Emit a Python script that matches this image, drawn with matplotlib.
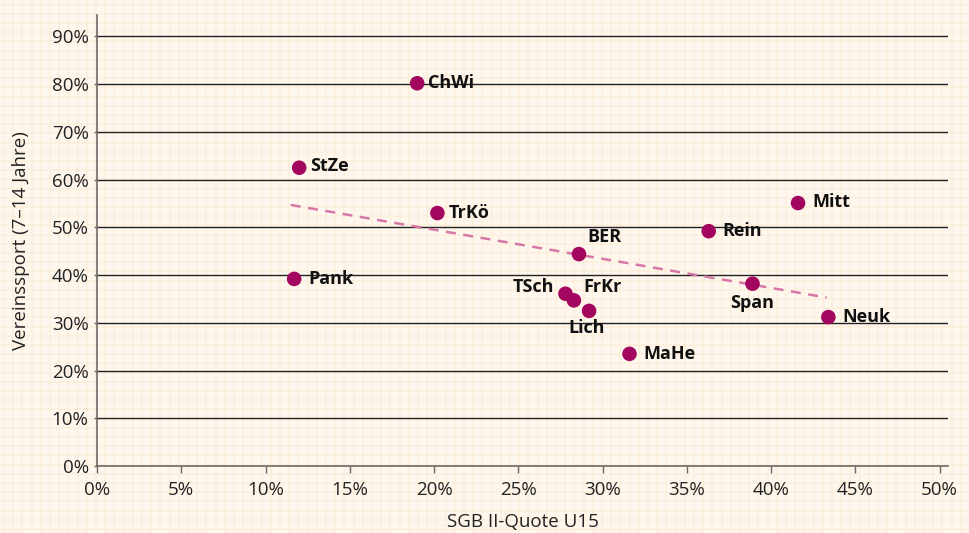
import numpy as np
import matplotlib.pyplot as plt
from matplotlib.lines import Line2D

# Bezirke: SGB II-Quote U15 (x, %) vs. Vereinssport 7-14 Jahre (y, %)
names = ["ChWi", "StZe", "TrKö", "Pank", "BER", "TSch", "FrKr", "Lich",
         "MaHe", "Rein", "Mitt", "Span", "Neuk"]
sgb_quote = [19.0, 12.0, 20.2, 11.7, 28.6, 27.8, 28.3, 29.2,
             31.6, 36.3, 41.6, 38.9, 43.4]
vereinssport = [80.2, 62.5, 53.0, 39.2, 44.4, 36.1, 34.7, 32.5,
                23.5, 49.2, 55.1, 38.2, 31.2]

trend_x = [11.5, 43.3]
trend_y = [54.7, 35.3]

x_ticks = [0, 5, 10, 15, 20, 25, 30, 35, 40, 45, 50]
y_ticks = [0, 10, 20, 30, 40, 50, 60, 70, 80, 90]

# Label-Offsets in Punkten (dx, dy, ha)
label_pos = {
    "ChWi": (8, 0, "left"), "StZe": (8, 1, "left"), "TrKö": (8, 0, "left"),
    "Pank": (10, 0, "left"), "BER": (6, 12, "left"), "TSch": (-8, 5, "right"),
    "FrKr": (7, 10, "left"), "Lich": (-2, -12, "center"), "MaHe": (10, 0, "left"),
    "Rein": (10, 0, "left"), "Mitt": (10, 1, "left"), "Span": (0, -14, "center"),
    "Neuk": (10, 0, "left"),
}

plt.rcParams['font.family'] = ['Open Sans', 'DejaVu Sans']

bg = "#fef7ee"
paper = "#fdeedb"
dot = "#a3065e"

fig = plt.figure(figsize=(9.69, 5.33), dpi=100, facecolor=bg)

# Karopapier-Hintergrund
step = 9.2
for px in np.arange(4, 969, step):
    fig.add_artist(Line2D([px / 969, px / 969], [0, 1], color=paper, lw=1.1, zorder=0))
for py in np.arange(4, 533, step):
    fig.add_artist(Line2D([0, 1], [py / 533, py / 533], color=paper, lw=1.1, zorder=0))

ax = fig.add_axes([97 / 969, (533 - 466) / 533, (948 - 97) / 969, (466 - 15) / 533])
ax.set_facecolor("none")

ax.set_xlim(0, 50.5)
ax.set_ylim(0, 94.5)

for y in y_ticks[1:]:
    ax.axhline(y, color="#222222", lw=1.0, zorder=1)

ax.plot(trend_x, trend_y, ls=(0, (4, 3)), color="#d677a8", lw=1.8, zorder=2)
ax.scatter(sgb_quote, vereinssport, s=110, color=dot, edgecolors="none", zorder=3)

for n, x, y in zip(names, sgb_quote, vereinssport):
    dx, dy, ha = label_pos[n]
    ax.annotate(n, (x, y), xytext=(dx, dy), textcoords="offset points",
                ha=ha, va="center", fontsize=13, fontweight="bold", color="#111111", zorder=4)

ax.set_xticks(x_ticks)
ax.set_xticklabels([f"{t}%" for t in x_ticks])
ax.set_yticks(y_ticks)
ax.set_yticklabels([f"{t}%" for t in y_ticks])
ax.tick_params(axis="x", length=5, width=1, color="#6f6767", labelsize=13.5, pad=6, labelcolor="#222222")
ax.tick_params(axis="y", length=2, width=1, color="#6f6767", labelsize=13.5, pad=4, labelcolor="#222222")

for s in ["top", "right"]:
    ax.spines[s].set_visible(False)
for s in ["left", "bottom"]:
    ax.spines[s].set_color("#6f6767")
    ax.spines[s].set_linewidth(1.2)

ax.set_xlabel("SGB II-Quote U15", fontsize=13.5, color="#222222", labelpad=10)
ax.set_ylabel("Vereinssport (7–14 Jahre)", fontsize=13.5, color="#222222", labelpad=16)

fig.savefig("out.png", dpi=100, facecolor=bg)
